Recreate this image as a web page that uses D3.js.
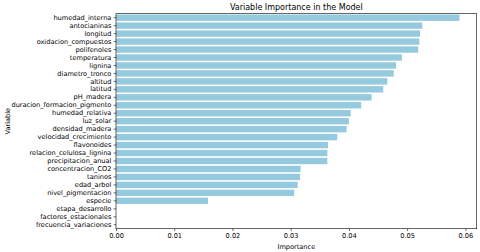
<!DOCTYPE html>
<html>
<head>
<meta charset="utf-8">
<script src="https://cdn.jsdelivr.net/npm/d3@7"></script>
<style>
  body { margin: 0; background: #fff; }
  text { font-family: "DejaVu Sans", sans-serif; fill: #000; }
</style>
</head>
<body>
<script>
// feature importances, sorted high to low
let variables = ["humedad_interna", "antocianinas", "longitud", "oxidacion_compuestos",
    "polifenoles", "temperatura", "lignina", "diametro_tronco", "altitud", "latitud",
    "pH_madera", "duracion_formacion_pigmento", "humedad_relativa", "luz_solar",
    "densidad_madera", "velocidad_crecimiento", "flavonoides", "relacion_celulosa_lignina",
    "precipitacion_anual", "concentracion_CO2", "taninos", "edad_arbol",
    "nivel_pigmentacion", "especie", "etapa_desarrollo", "factores_estacionales",
    "frecuencia_variaciones"];
let importances = [0.0590, 0.0526, 0.0522, 0.0521,
    0.0519, 0.0491, 0.0481, 0.0477, 0.0466, 0.0459,
    0.0439, 0.0421, 0.0403, 0.0400,
    0.0396, 0.0380, 0.0364, 0.0363,
    0.0363, 0.0317, 0.0316, 0.0312,
    0.0306, 0.0158, 0, 0,
    0];
let xTicks = [0, 0.01, 0.02, 0.03, 0.04, 0.05, 0.06];

let width = 480,
    height = 252,
    margins = {top: 13.7, right: 3.3, bottom: 23.3, left: 116},
    barColour = "#94c9de";

let data = variables.map((v, i) => ({variable: v, importance: importances[i]}));

let svg = d3.select("body").append("svg")
    .attr("width", width)
    .attr("height", height);

let xScale = d3.scaleLinear()
    .domain([0, d3.max(importances) * 1.05])
    .range([margins.left, width - margins.right]);

let yScale = d3.scaleBand()
    .domain(variables)
    .range([margins.top, height - margins.bottom])
    .paddingInner(0.2)
    .paddingOuter(0.1);

// bars
svg.append("g")
    .selectAll("rect")
    .data(data)
    .enter().append("rect")
    .attr("x", xScale(0))
    .attr("y", d => yScale(d.variable))
    .attr("width", d => xScale(d.importance) - xScale(0))
    .attr("height", yScale.bandwidth())
    .attr("fill", barColour);

// axes
let xAxis = svg.append("g")
    .attr("transform", `translate(0, ${height - margins.bottom})`)
    .call(d3.axisBottom(xScale).tickValues(xTicks).tickFormat(d3.format(".2f")).tickSizeOuter(0).tickSize(2.3).tickPadding(2.3));

let yAxis = svg.append("g")
    .attr("transform", `translate(${margins.left}, 0)`)
    .call(d3.axisLeft(yScale).tickSizeOuter(0).tickSize(2.3).tickPadding(2.3));

[xAxis, yAxis].forEach(a => {
    a.select(".domain").remove();
    a.selectAll("line").attr("stroke", "#000").attr("stroke-width", 0.6);
    a.selectAll("text").attr("font-size", "6.6px").attr("font-family", "DejaVu Sans");
});

// frame round the plot area
svg.append("rect")
    .attr("x", margins.left)
    .attr("y", margins.top)
    .attr("width", width - margins.right - margins.left)
    .attr("height", height - margins.bottom - margins.top)
    .attr("fill", "none")
    .attr("stroke", "#000")
    .attr("stroke-width", 0.6);

// title and axis labels
svg.append("text")
    .attr("x", (margins.left + width - margins.right) / 2)
    .attr("y", 9.6)
    .attr("text-anchor", "middle")
    .attr("font-size", "8px")
    .text("Variable Importance in the Model");

svg.append("text")
    .attr("x", (margins.left + width - margins.right) / 2)
    .attr("y", 248.5)
    .attr("text-anchor", "middle")
    .attr("font-size", "6.6px")
    .text("Importance");

svg.append("text")
    .attr("transform", `translate(10.3, ${(margins.top + height - margins.bottom) / 2}) rotate(-90)`)
    .attr("text-anchor", "middle")
    .attr("font-size", "6.6px")
    .text("Variable");
</script>
</body>
</html>
